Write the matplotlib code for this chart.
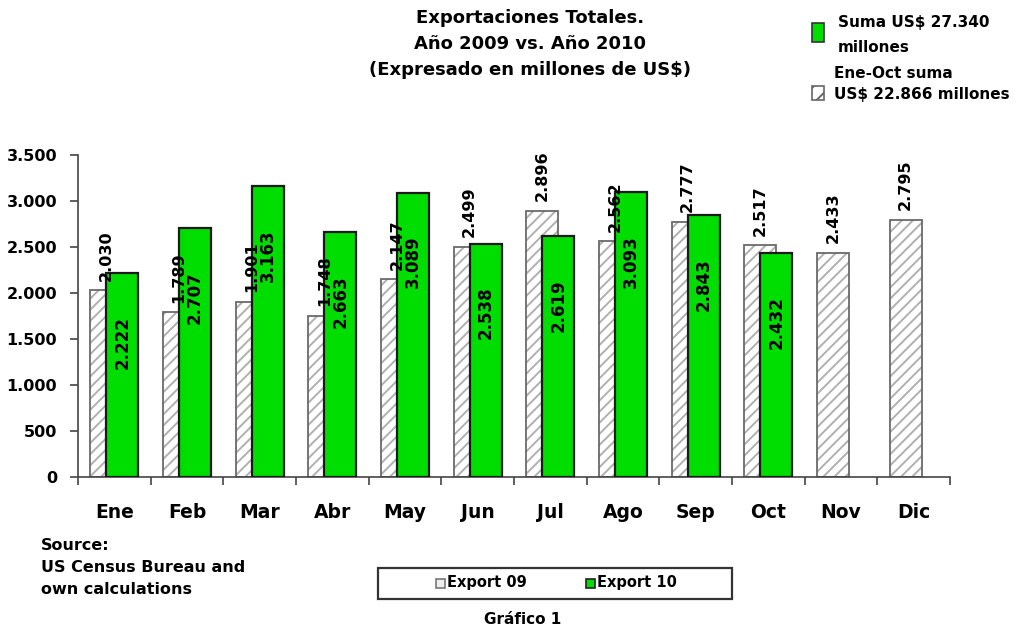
import matplotlib
matplotlib.use("Agg")
import matplotlib.pyplot as plt
from matplotlib.patches import Rectangle
import numpy as np

plt.rcParams['font.family'] = ['DejaVu Sans']
plt.rcParams['hatch.linewidth'] = 1.4

months = ["Ene", "Feb", "Mar", "Abr", "May", "Jun", "Jul", "Ago", "Sep", "Oct", "Nov", "Dic"]
export09 = [2030, 1789, 1901, 1748, 2147, 2499, 2896, 2562, 2777, 2517, 2433, 2795]
export10 = [2222, 2707, 3163, 2663, 3089, 2538, 2619, 3093, 2843, 2432]
yticks = [0, 500, 1000, 1500, 2000, 2500, 3000, 3500]

def fmt(v):
    return f"{v:,}".replace(",", ".")

W, H = 1025, 629
fig = plt.figure(figsize=(W / 100, H / 100), dpi=100)

def fx(px):
    return px / W

def fy(py):
    return 1 - py / H

ax = fig.add_axes([fx(78), fy(477), fx(950) - fx(78), fy(155) - fy(477)])

green = '#00dd00'
hatch_col = '#b0b0b0'
edge09 = '#6a6a6a'
x = np.arange(len(months))
x10 = np.arange(len(export10))
bw = 0.44
# hatched fill for 2009
ax.bar(x - 0.11, export09, width=bw, facecolor='white', edgecolor=hatch_col,
       hatch='///', linewidth=0, zorder=2)
# outline for 2009
ax.bar(x - 0.11, export09, width=bw, fill=False, edgecolor=edge09,
       linewidth=1.3, zorder=2.1)
ax.bar(x10 + 0.11, export10, width=bw, facecolor=green, edgecolor='#1a1a1a',
       linewidth=1.6, zorder=3)

for xi, v in zip(x - 0.11, export09):
    ax.annotate(fmt(v), (xi, v), xytext=(0, 7), textcoords='offset points',
                rotation=90, ha='center', va='bottom', fontsize=11.5,
                fontweight='bold', color='black', zorder=5)
for xi, v in zip(x10 + 0.11, export10):
    ax.annotate(fmt(v), (xi, v), xytext=(0, -31), textcoords='offset points',
                rotation=90, ha='center', va='top', fontsize=12,
                fontweight='bold', color='black', zorder=5)

ax.set_xlim(-0.5, len(months) - 0.5)
ax.set_ylim(0, 3500)
ax.set_yticks(yticks)
ax.set_yticklabels([fmt(t) for t in yticks], fontsize=11.5, fontweight='bold')
ax.set_xticks(x)
ax.set_xticklabels(months, fontsize=13.5, fontweight='bold')
ax.set_xticks(np.arange(-0.5, len(months) + 0.5, 1), minor=True)
ax.tick_params(axis='x', which='major', length=0, pad=19)
ax.tick_params(axis='x', which='minor', length=6, width=1.2, color='#444444')
ax.tick_params(axis='y', length=6, width=1.2, color='#444444', pad=9)
for s in ['top', 'right']:
    ax.spines[s].set_visible(False)
for s in ['left', 'bottom']:
    ax.spines[s].set_color('#444444')
    ax.spines[s].set_linewidth(1.2)

# Title
for txt, yy in [("Exportaciones Totales.", 18), ("Año 2009 vs. Año 2010", 44),
                ("(Expresado en millones de US$)", 70)]:
    fig.text(fx(530), fy(yy), txt, ha='center', va='center', fontsize=13, fontweight='bold')

# Top-right annotations
fig.add_artist(Rectangle((fx(812), fy(42)), fx(12), fy(23) - fy(42), transform=fig.transFigure,
                         facecolor=green, edgecolor='#333333', linewidth=1.2))
fig.text(fx(838), fy(23), "Suma US$ 27.340", ha='left', va='center', fontsize=11, fontweight='bold')
fig.text(fx(838), fy(47), "millones", ha='left', va='center', fontsize=11, fontweight='bold')
fig.text(fx(834), fy(73), "Ene-Oct suma", ha='left', va='center', fontsize=11, fontweight='bold')
fig.add_artist(Rectangle((fx(812), fy(100)), fx(12), fy(86) - fy(100), transform=fig.transFigure,
                         facecolor='white', edgecolor='#666666', hatch='//', linewidth=1.2))
fig.text(fx(834), fy(94), "US$ 22.866 millones", ha='left', va='center', fontsize=11, fontweight='bold')

# Source
fig.text(fx(41), fy(545), "Source:", ha='left', va='center', fontsize=11.5, fontweight='bold')
fig.text(fx(41), fy(568), "US Census Bureau and", ha='left', va='center', fontsize=11.5, fontweight='bold')
fig.text(fx(41), fy(590), "own calculations", ha='left', va='center', fontsize=11.5, fontweight='bold')

# Bottom legend (drawn as a box with swatches)
fig.add_artist(Rectangle((fx(378), fy(599)), fx(732) - fx(378), fy(568) - fy(599),
                         transform=fig.transFigure, facecolor='white', edgecolor='#333333',
                         linewidth=1.6))
fig.add_artist(Rectangle((fx(436), fy(588)), fx(9), fy(579) - fy(588), transform=fig.transFigure,
                         facecolor='#eeeeee', edgecolor='#777777', linewidth=1.2))
fig.text(fx(447), fy(583), "Export 09", ha='left', va='center', fontsize=10.5, fontweight='bold')
fig.add_artist(Rectangle((fx(586), fy(588)), fx(9), fy(579) - fy(588), transform=fig.transFigure,
                         facecolor=green, edgecolor='#222222', linewidth=1.2))
fig.text(fx(597), fy(583), "Export 10", ha='left', va='center', fontsize=10.5, fontweight='bold')

fig.text(fx(523), fy(620), "Gráfico 1", ha='center', va='center', fontsize=11, fontweight='bold')

fig.savefig('out.png', dpi=100, facecolor='white')
